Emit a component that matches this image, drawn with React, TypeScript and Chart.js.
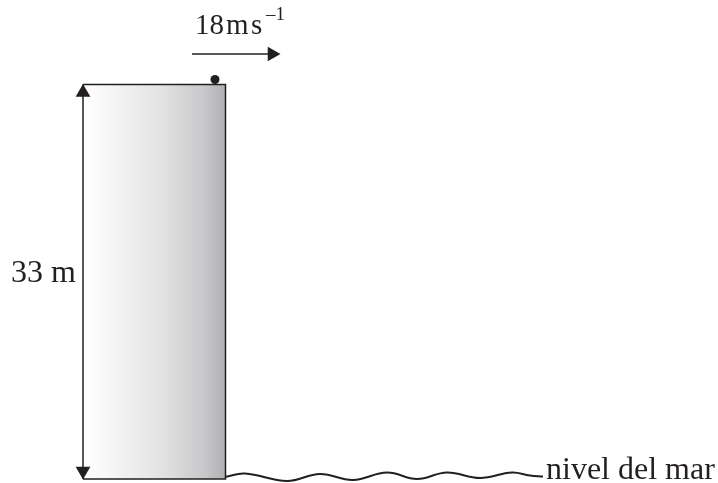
import React, { useEffect, useRef } from "react";
import { Chart, registerables } from "chart.js";

Chart.register(...registerables);

// Diagram coordinates (x to the right, y downward).
const cliffTopEdge = [
  { x: 83, y: 84.5 },
  { x: 225.5, y: 84.5 },
];
const cliffOutline = [
  { x: 83, y: 84.5 },
  { x: 225.5, y: 84.5 },
  { x: 225.5, y: 479 },
  { x: 83, y: 479 },
];
const cliffBase = 479;
const heightLine = [
  { x: 83, y: 84.5 },
  { x: 83, y: 479 },
];
const heightArrowHeads = [
  { x: 83, y: 92.5 },
  { x: 83, y: 471 },
];
const heightArrowRotations = [0, 180];
const velocityLine = [
  { x: 192, y: 54 },
  { x: 274, y: 54 },
];
const velocityArrowHead = [{ x: 272, y: 54 }];
const ball = [{ x: 215, y: 79.5 }];
const seaWave = [
  { x: 225, y: 477 },
  { x: 245, y: 473.5 },
  { x: 287, y: 481 },
  { x: 320, y: 474 },
  { x: 353, y: 480 },
  { x: 387, y: 472.5 },
  { x: 417, y: 479 },
  { x: 447, y: 472.5 },
  { x: 480, y: 478 },
  { x: 512, y: 472.5 },
  { x: 530, y: 475.5 },
  { x: 543, y: 476.5 },
];

const labelTexts = ["18", "m", "s", "\u20131", "33 m", "nivel del mar"];
const labelX = [195, 226, 251, 266, 11, 546];
const labelY = [34, 34, 34, 20, 282, 479];
const labelSizes = [29, 29, 29, 19, 32, 32];

const INK = "#231f20";
const FONT = '"Liberation Serif", "Times New Roman", serif';

const textPlugin = {
  id: "diagramText",
  afterDatasetsDraw(chart: any) {
    const { ctx, scales } = chart;
    ctx.save();
    ctx.fillStyle = INK;
    ctx.textAlign = "left";
    ctx.textBaseline = "alphabetic";
    labelTexts.forEach((t, i) => {
      ctx.font = `${labelSizes[i]}px ${FONT}`;
      ctx.fillText(
        t,
        scales.x.getPixelForValue(labelX[i]),
        scales.y.getPixelForValue(labelY[i])
      );
    });
    ctx.restore();
  },
};

export default function App() {
  const ref = useRef<HTMLCanvasElement | null>(null);

  useEffect(() => {
    if (!ref.current) return;
    const chart = new Chart(ref.current, {
      type: "scatter",
      data: {
        datasets: [
          {
            data: cliffTopEdge,
            showLine: true,
            borderWidth: 0,
            borderColor: "rgba(0,0,0,0)",
            pointRadius: 0,
            fill: { value: cliffBase },
            backgroundColor: (c: any) => {
              const ch = c.chart;
              if (!ch.chartArea) return "#ddd";
              const x0 = ch.scales.x.getPixelForValue(cliffTopEdge[0].x);
              const x1 = ch.scales.x.getPixelForValue(cliffTopEdge[1].x);
              const g = ch.ctx.createLinearGradient(x0, 0, x1, 0);
              g.addColorStop(0, "#ffffff");
              g.addColorStop(0.2, "#f6f6f6");
              g.addColorStop(0.55, "#e3e3e4");
              g.addColorStop(0.85, "#c8c8ca");
              g.addColorStop(1, "#b0b0b3");
              return g;
            },
            order: 10,
          } as any,
          {
            data: cliffOutline,
            showLine: true,
            borderColor: INK,
            borderWidth: 1.5,
            pointRadius: 0,
            fill: false,
          },
          {
            data: heightLine,
            showLine: true,
            borderColor: INK,
            borderWidth: 1.5,
            pointRadius: 0,
            fill: false,
          },
          {
            data: heightArrowHeads,
            showLine: false,
            pointStyle: "triangle",
            pointRadius: 8.5,
            pointRotation: heightArrowRotations,
            backgroundColor: INK,
            borderColor: INK,
            borderWidth: 0,
          },
          {
            data: velocityLine,
            showLine: true,
            borderColor: INK,
            borderWidth: 1.5,
            pointRadius: 0,
            fill: false,
          },
          {
            data: velocityArrowHead,
            showLine: false,
            pointStyle: "triangle",
            pointRadius: 8.5,
            pointRotation: 90,
            backgroundColor: INK,
            borderColor: INK,
            borderWidth: 0,
          },
          {
            data: ball,
            showLine: false,
            pointStyle: "circle",
            pointRadius: 4.5,
            backgroundColor: INK,
            borderColor: INK,
            borderWidth: 0,
          },
          {
            data: seaWave,
            showLine: true,
            borderColor: INK,
            borderWidth: 2,
            pointRadius: 0,
            tension: 0.4,
            fill: false,
          },
        ] as any,
      },
      options: {
        animation: false,
        responsive: true,
        maintainAspectRatio: false,
        layout: { padding: 0, autoPadding: false } as any,
        plugins: {
          legend: { display: false },
          tooltip: { enabled: false },
        },
        events: [],
        scales: {
          x: { type: "linear", min: 0, max: 718, display: false },
          y: { type: "linear", min: 0, max: 483, reverse: true, display: false },
        },
      },
      plugins: [textPlugin],
    });
    return () => chart.destroy();
  }, []);

  return (
    <div
      style={{
        position: "absolute",
        left: 0,
        top: 0,
        width: 718,
        height: 483,
        background: "#ffffff",
      }}
    >
      <canvas ref={ref} />
    </div>
  );
}
